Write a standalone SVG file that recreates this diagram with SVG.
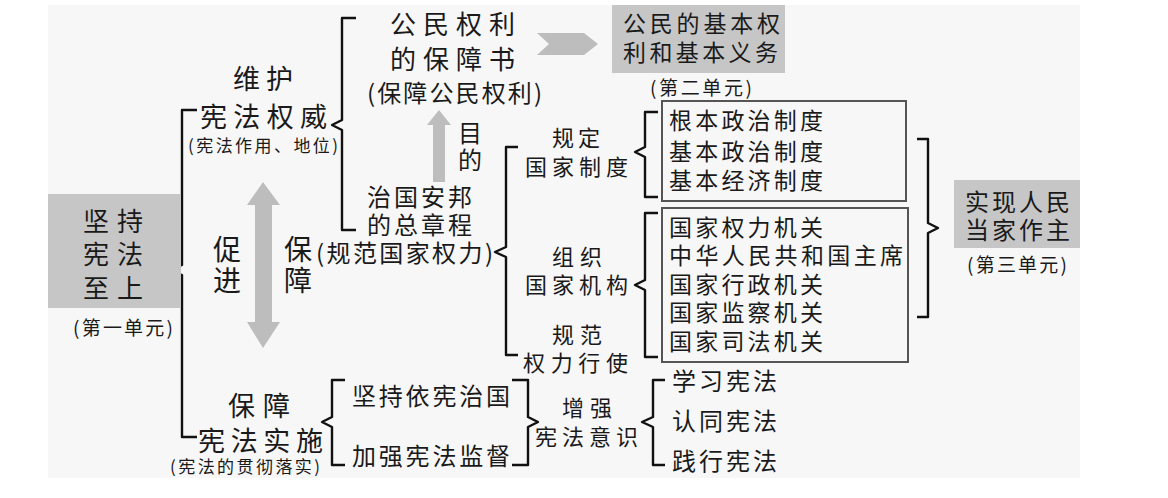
<svg xmlns="http://www.w3.org/2000/svg" width="1168" height="498" viewBox="0 0 1168 498">
<style>
text{font-family:"Noto Sans CJK SC","Noto Sans",sans-serif;fill:#1a1a1a;}
.br{fill:none;stroke:#111;stroke-width:2.4;stroke-linejoin:round;}
.gbox{fill:#c6c6c6;}
.garrow{fill:#bdbdbd;}
.box{fill:none;stroke:#555;stroke-width:2;}
.t28{font-size:28px;}
.t27{font-size:27px;}
.t26{font-size:26px;}
.t24{font-size:24px;}
.t23{font-size:23px;}
.t22{font-size:22px;}
.t19{font-size:19px;}
.t17{font-size:17px;}
</style>
<rect x="0" y="0" width="1168" height="498" fill="#ffffff"/>
<rect x="48" y="5" width="1032" height="473" fill="#f7f7f7"/>

<g id="connectors">
<path class="br" d="M197,110 H182 V265 L170,270 L182,275 V437 H197"/>
<path class="br" d="M356,18 H342 V120 L332,125 L342,130 V230 H356"/>
<path class="br" d="M518,147 H506 V247 L495,252 L506,257 V355 H518"/>
<path class="br" d="M658,112 H645 V147 L635,152 L645,157 V197 H658"/>
<path class="br" d="M658,213 H645 V280 L635,285 L645,290 V357 H658"/>
<path class="br" d="M917,139 H928 V223 L938,228 L928,233 V317 H917"/>
<path class="br" d="M345,380 H332 V417 L322,422 L332,427 V465 H345"/>
<path class="br" d="M512,380 H528 V417 L538,422 L528,427 V465 H512"/>
<path class="br" d="M665,380 H653 V417 L642,422 L653,427 V465 H665"/>
<polygon class="garrow" points="537,33 584,33 598,44 584,55 537,55 549,44"/>
<polygon class="garrow" points="439,110 451,125 445,125 445,182 433,182 433,125 427,125"/>
<polygon class="garrow" points="263,182 280,205 272,205 272,322 280,322 263,348 247,322 255,322 255,205 247,205"/>
</g>

<g id="node-jianchi">
<rect class="gbox" x="48" y="194" width="133" height="114"/>
<text class="t26" x="83" y="231" textLength="60" lengthAdjust="spacing">坚持</text>
<text class="t26" x="83" y="264" textLength="60" lengthAdjust="spacing">宪法</text>
<text class="t26" x="83" y="298" textLength="60" lengthAdjust="spacing">至上</text>
<text class="t19" x="73" y="335" textLength="100" lengthAdjust="spacing">(第一单元)</text>
</g>

<g id="node-weihu">
<text class="t27" x="233" y="89" textLength="60" lengthAdjust="spacing">维护</text>
<text class="t27" x="200" y="127" textLength="127" lengthAdjust="spacing">宪法权威</text>
<text class="t17" x="188" y="152" textLength="150" lengthAdjust="spacing">(宪法作用、地位)</text>
</g>

<g id="node-baozhangshu">
<text class="t26" x="390" y="34" textLength="125" lengthAdjust="spacing">公民权利</text>
<text class="t26" x="390" y="69" textLength="125" lengthAdjust="spacing">的保障书</text>
<text class="t24" x="367" y="102" textLength="175" lengthAdjust="spacing">(保障公民权利)</text>
</g>

<g id="node-unit2">
<rect class="gbox" x="612" y="5" width="173" height="68"/>
<text class="t23" x="623" y="32" textLength="157" lengthAdjust="spacing">公民的基本权</text>
<text class="t23" x="623" y="61" textLength="155" lengthAdjust="spacing">利和基本义务</text>
<text class="t19" x="650" y="95" textLength="102" lengthAdjust="spacing">(第二单元)</text>
</g>

<g id="node-mudi">
<text class="t24" x="470" y="142" text-anchor="middle">目</text>
<text class="t24" x="470" y="169" text-anchor="middle">的</text>
</g>

<g id="node-zhangcheng">
<text class="t24" x="367" y="206" textLength="105" lengthAdjust="spacing">治国安邦</text>
<text class="t24" x="367" y="234" textLength="105" lengthAdjust="spacing">的总章程</text>
<text class="t24" x="316" y="262" textLength="177" lengthAdjust="spacing">(规范国家权力)</text>
</g>

<g id="node-cujin">
<text class="t28" x="227" y="260" text-anchor="middle">促</text>
<text class="t28" x="227" y="291" text-anchor="middle">进</text>
<text class="t28" x="298" y="260" text-anchor="middle">保</text>
<text class="t28" x="298" y="291" text-anchor="middle">障</text>
</g>

<g id="node-guiding">
<text class="t22" x="552" y="146" textLength="48" lengthAdjust="spacing">规定</text>
<text class="t22" x="525" y="175" textLength="103" lengthAdjust="spacing">国家制度</text>
</g>

<g id="node-zuzhi">
<text class="t22" x="552" y="265" textLength="50" lengthAdjust="spacing">组织</text>
<text class="t22" x="525" y="293" textLength="103" lengthAdjust="spacing">国家机构</text>
</g>

<g id="node-guifan">
<text class="t22" x="552" y="343" textLength="50" lengthAdjust="spacing">规范</text>
<text class="t22" x="523" y="371" textLength="105" lengthAdjust="spacing">权力行使</text>
</g>

<g id="node-zhidu">
<rect class="box" x="662" y="101" width="244" height="100"/>
<text class="t23" x="669" y="129" textLength="154" lengthAdjust="spacing">根本政治制度</text>
<text class="t23" x="669" y="160" textLength="154" lengthAdjust="spacing">基本政治制度</text>
<text class="t23" x="669" y="189" textLength="154" lengthAdjust="spacing">基本经济制度</text>
</g>

<g id="node-jigou">
<rect class="box" x="662" y="208" width="246" height="154"/>
<text class="t23" x="669" y="236" textLength="154" lengthAdjust="spacing">国家权力机关</text>
<text class="t23" x="669" y="264" textLength="234" lengthAdjust="spacing">中华人民共和国主席</text>
<text class="t23" x="669" y="293" textLength="154" lengthAdjust="spacing">国家行政机关</text>
<text class="t23" x="669" y="321" textLength="154" lengthAdjust="spacing">国家监察机关</text>
<text class="t23" x="669" y="350" textLength="154" lengthAdjust="spacing">国家司法机关</text>
</g>

<g id="node-unit3">
<rect class="gbox" x="954" y="180" width="126" height="68"/>
<text class="t24" x="965" y="211" textLength="105" lengthAdjust="spacing">实现人民</text>
<text class="t24" x="965" y="239" textLength="105" lengthAdjust="spacing">当家作主</text>
<text class="t19" x="967" y="272" textLength="100" lengthAdjust="spacing">(第三单元)</text>
</g>

<g id="node-shishi">
<text class="t27" x="228" y="416" textLength="62" lengthAdjust="spacing">保障</text>
<text class="t27" x="198" y="451" textLength="125" lengthAdjust="spacing">宪法实施</text>
<text class="t17" x="170" y="473" textLength="150" lengthAdjust="spacing">(宪法的贯彻落实)</text>
</g>

<g id="node-yixian">
<text class="t24" x="352" y="405" textLength="158" lengthAdjust="spacing">坚持依宪治国</text>
</g>

<g id="node-jiandu">
<text class="t24" x="352" y="465" textLength="158" lengthAdjust="spacing">加强宪法监督</text>
</g>

<g id="node-yishi">
<text class="t22" x="562" y="416" textLength="50" lengthAdjust="spacing">增强</text>
<text class="t22" x="535" y="445" textLength="103" lengthAdjust="spacing">宪法意识</text>
</g>

<g id="node-xuexi">
<text class="t24" x="672" y="390" textLength="105" lengthAdjust="spacing">学习宪法</text>
</g>
<g id="node-rentong">
<text class="t24" x="672" y="430" textLength="105" lengthAdjust="spacing">认同宪法</text>
</g>
<g id="node-jianxing">
<text class="t24" x="672" y="470" textLength="105" lengthAdjust="spacing">践行宪法</text>
</g>
</svg>
